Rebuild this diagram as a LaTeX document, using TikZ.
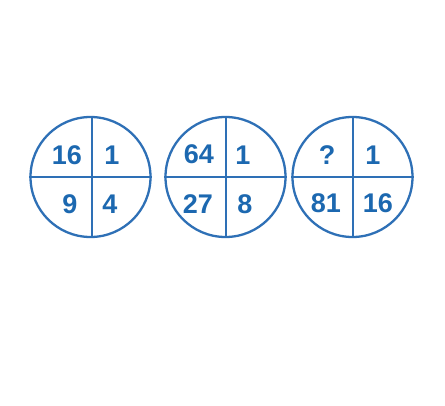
\documentclass[tikz,border=0pt]{standalone}
\usepackage{fontspec}
\setmainfont{Liberation Sans}
\definecolor{ringblue}{RGB}{46,112,182}
\definecolor{numblue}{RGB}{28,104,176}
\begin{document}
\begin{tikzpicture}[x=1pt,y=-1pt,
  ring/.style={draw=ringblue,line width=2.3pt,circle,minimum size=120pt,inner sep=0pt},
  divider/.style={draw=ringblue,line width=2pt},
  num/.style={text=numblue,font=\fontsize{27}{27}\selectfont\bfseries,inner sep=0pt,anchor=center}]
\useasboundingbox (0,0) rectangle (445,406);
% circle 1
\node[ring] (c1) at (90.5,177) {};
\draw[divider] (c1.north) ++(1.5,0) coordinate (c1t) -- (c1.south -| c1t);
\draw[divider] (c1.west) -- (c1.east);
\node[num] (a1) at (67,155) {16};
\node[num] (a2) at (112,155) {1};
\node[num] (a3) at (70,204) {9};
\node[num] (a4) at (110,204) {4};
% circle 2
\node[ring] (c2) at (225.5,177) {};
\draw[divider] (c2.north) -- (c2.south);
\draw[divider] (c2.west) -- (c2.east);
\node[num] (b1) at (199,154) {64};
\node[num] (b2) at (243,155) {1};
\node[num] (b3) at (198,204) {27};
\node[num] (b4) at (245,204) {8};
% circle 3
\node[ring] (c3) at (352.5,177) {};
\draw[divider] (c3.north) -- (c3.south);
\draw[divider] (c3.west) -- (c3.east);
\node[num] (d1) at (327,155) {?};
\node[num] (d2) at (373,155) {1};
\node[num] (d3) at (326,203) {81};
\node[num] (d4) at (378,203) {16};
\end{tikzpicture}
\end{document}
